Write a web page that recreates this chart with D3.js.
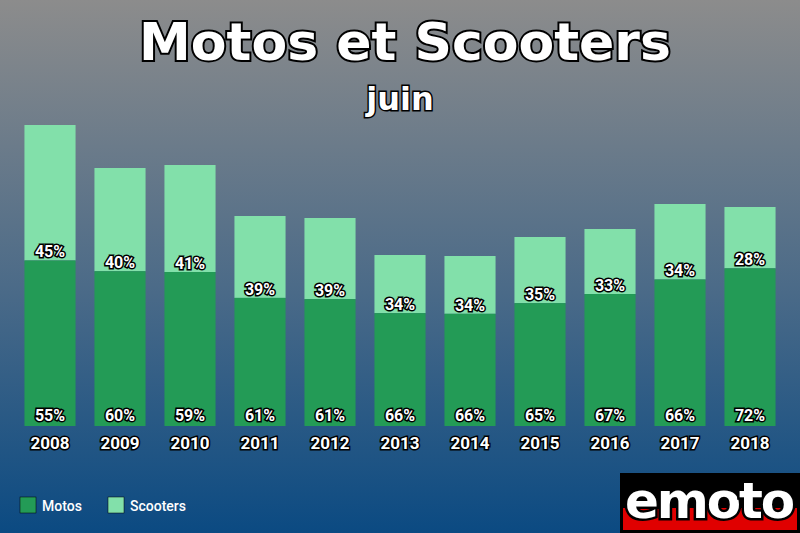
<!DOCTYPE html>
<html><head><meta charset="utf-8">
<script src="https://cdn.jsdelivr.net/npm/d3@7"></script>
<style>body{margin:0}svg{display:block}</style></head>
<body><svg id="c" width="800" height="533"></svg>
<script>
const years=["2008","2009","2010","2011","2012","2013","2014","2015","2016","2017","2018"];
const totals=[301,258,261,210,208,171,170,189,197,222,219];
const motosPct=[55,60,59,61,61,66,66,65,67,66,72];
const scootersPct=[45,40,41,39,39,34,34,35,33,34,28];

const svg=d3.select("#c");
const defs=svg.append("defs");
const g=defs.append("linearGradient").attr("id","bg").attr("x1",0).attr("y1",0).attr("x2",0).attr("y2",1);
g.append("stop").attr("offset","0%").attr("stop-color","#8c8c8c");
g.append("stop").attr("offset","55%").attr("stop-color","#4a6a88");
g.append("stop").attr("offset","100%").attr("stop-color","#0b4a82");
svg.append("rect").attr("width",800).attr("height",533).attr("fill","url(#bg)");

const x=d3.scaleBand().domain(years).range([15,785]).paddingInner(0.27).paddingOuter(0.135);
const y=d3.scaleLinear().domain([0,301]).range([426,125]);

const txt=(sel)=>sel.attr("fill","#fff").attr("stroke","#000").attr("stroke-width",3).attr("paint-order","stroke").attr("font-family","Roboto, sans-serif").attr("font-weight","bold").attr("text-anchor","middle");

years.forEach((yr,i)=>{
  const m=totals[i]*motosPct[i]/100;
  svg.append("rect").attr("x",x(yr)).attr("width",x.bandwidth()).attr("y",y(totals[i])).attr("height",y(m)-y(totals[i])).attr("fill","#82e0aa");
  svg.append("rect").attr("x",x(yr)).attr("width",x.bandwidth()).attr("y",y(m)).attr("height",y(0)-y(m)).attr("fill","#239b56");
  const cx=x(yr)+x.bandwidth()/2;
  svg.append("text").call(txt).attr("x",cx).attr("y",y(m)-3).attr("font-size",16).text(scootersPct[i]+"%");
  svg.append("text").call(txt).attr("x",cx).attr("y",421).attr("font-size",16).text(motosPct[i]+"%");
});
const ax=svg.append("g").attr("transform","translate(0,426)").call(d3.axisBottom(x).tickSize(0).tickPadding(8));
ax.select(".domain").remove();
ax.selectAll("text").call(txt).attr("font-size",17).attr("dy","0.9em");

svg.append("text").call(txt).attr("x",405).attr("y",60).attr("font-family","DejaVu Sans, sans-serif").attr("font-size",52).attr("stroke-width",4).text("Motos et Scooters");
svg.append("text").call(txt).attr("x",400).attr("y",110).attr("font-family","DejaVu Sans, sans-serif").attr("font-size",32).attr("stroke-width",3).text("juin");

const leg=[["Motos","#239b56",20],["Scooters","#82e0aa",108]];
leg.forEach(([n,c,lx])=>{
  svg.append("rect").attr("x",lx).attr("y",497).attr("width",16).attr("height",16).attr("fill",c).attr("stroke","#000").attr("stroke-width",0.5);
  svg.append("text").attr("x",lx+22).attr("y",511).attr("fill","#fff").attr("font-family","Roboto, sans-serif").attr("font-size",14).attr("font-weight","500").text(n);
});
// logo
svg.append("rect").attr("x",620).attr("y",473).attr("width",180).attr("height",60).attr("fill","#000");
svg.append("rect").attr("x",623).attr("y",508).attr("width",174).attr("height",22).attr("fill","#e00000");
svg.append("text").attr("x",710).attr("y",518).attr("text-anchor","middle").attr("fill","#fff").attr("stroke","#000").attr("stroke-width",5).attr("paint-order","stroke").attr("font-family","DejaVu Sans, sans-serif").attr("font-weight","bold").attr("font-size",50).attr("textLength",170).text("emoto");
</script></body></html>
